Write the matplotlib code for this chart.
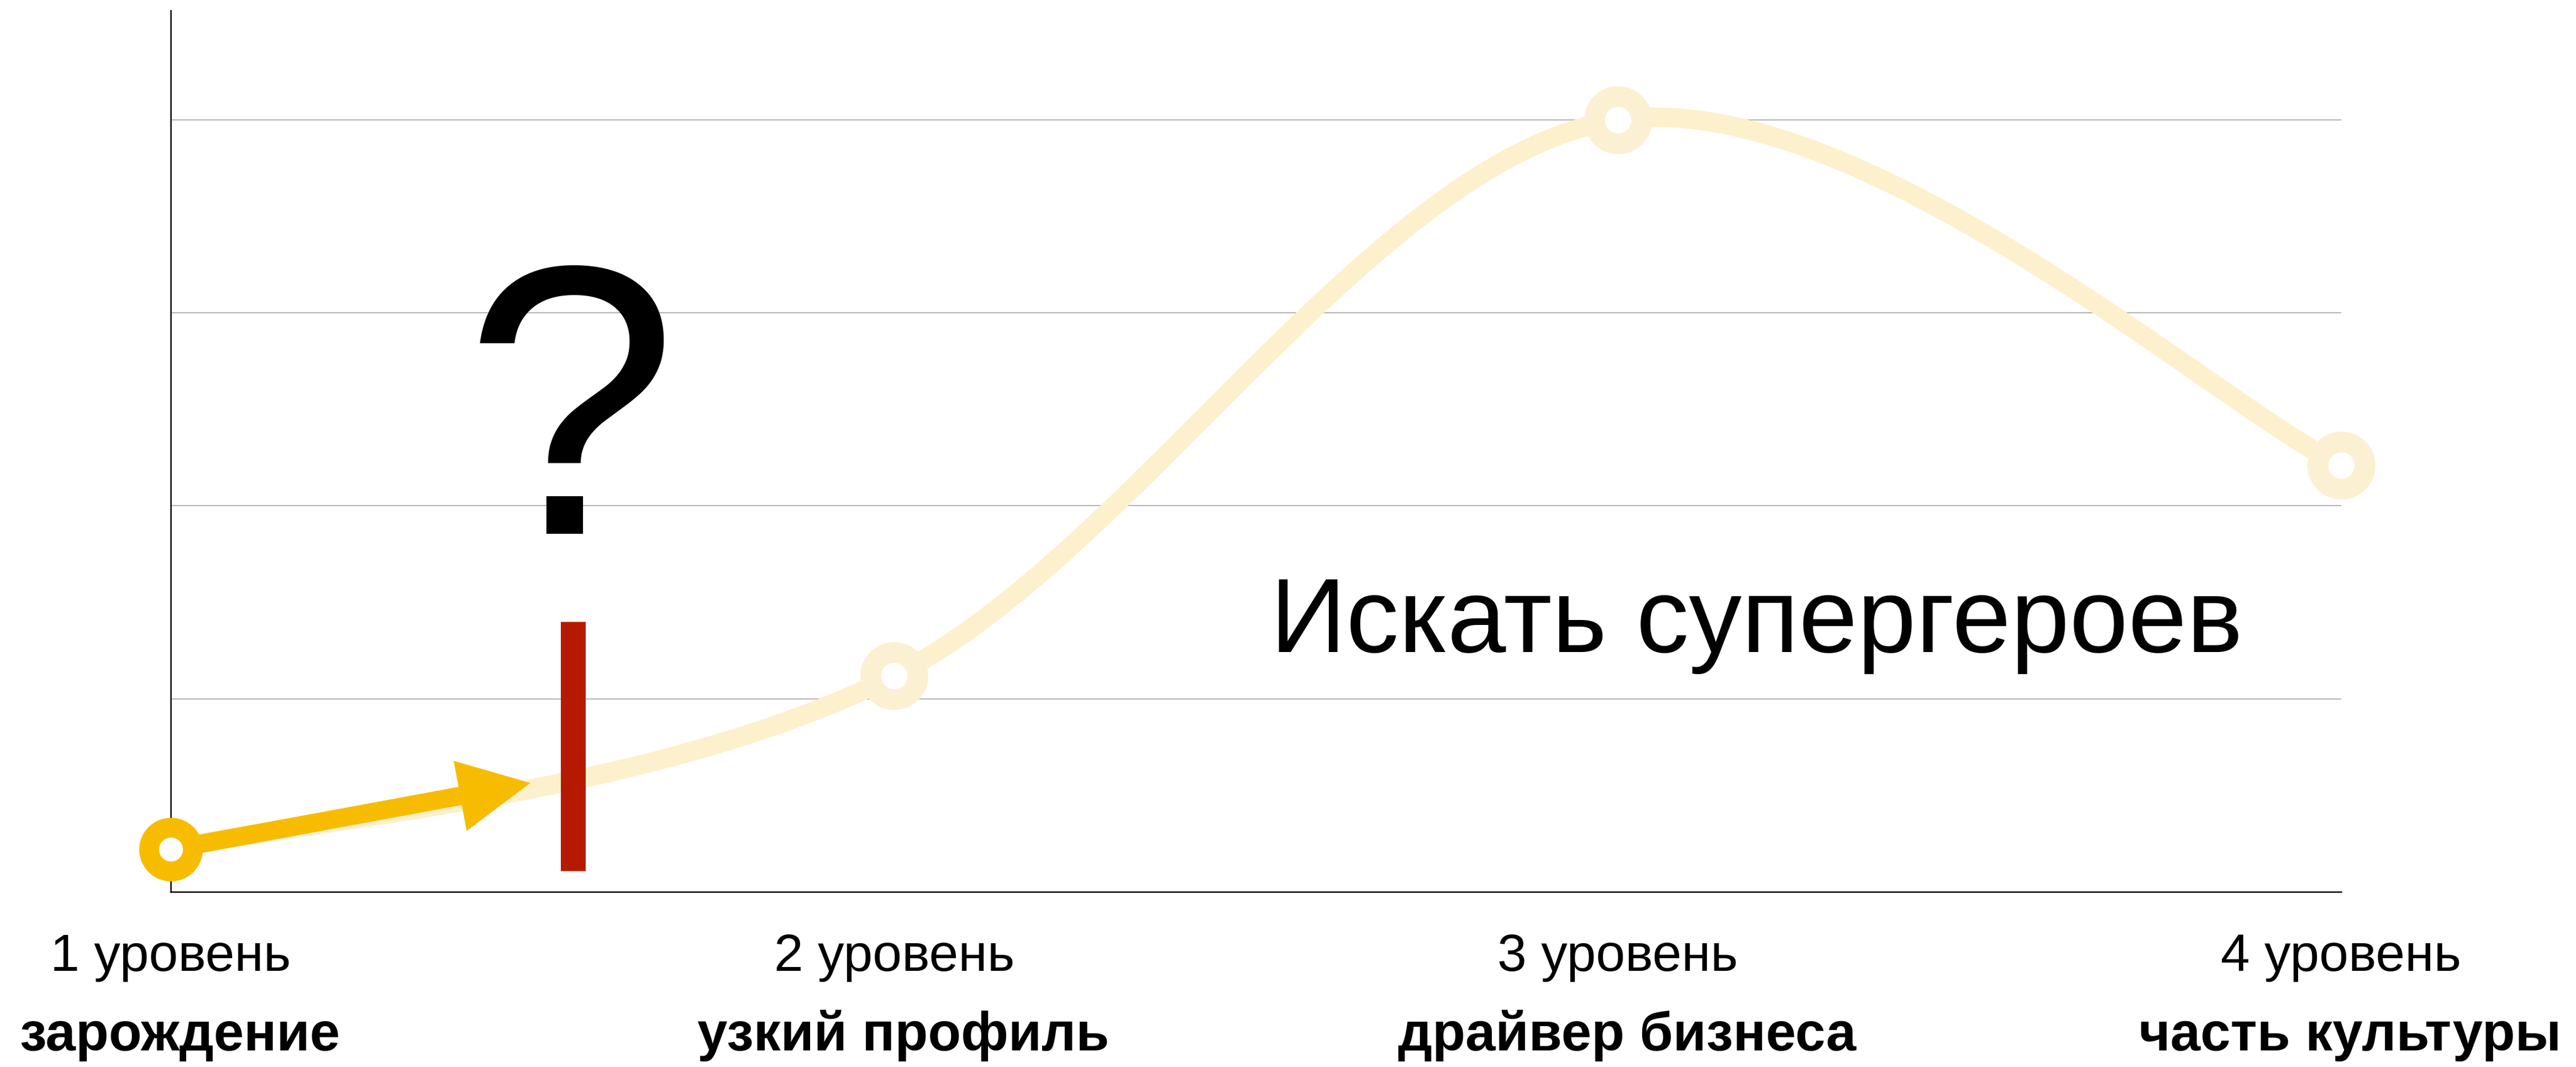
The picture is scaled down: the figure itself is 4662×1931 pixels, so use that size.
import numpy as np
import matplotlib
matplotlib.use("Agg")
import matplotlib.pyplot as plt
from matplotlib.path import Path
from matplotlib.patches import PathPatch, FancyArrowPatch, ArrowStyle

# data
levels = ["1 уровень", "2 уровень", "3 уровень", "4 уровень"]
stages = ["зарождение", "узкий профиль", "драйвер бизнеса", "часть культуры"]
level_x = [0, 1, 2, 3]
level_y = [0.22, 1.12, 4.0, 2.21]
arrow_end = (0.497, 0.564)
marker_x = 0.556
marker_low, marker_high = 0.11, 1.40
caption = "Искать супергероев"

plt.rcParams['font.family'] = ['Liberation Sans', 'DejaVu Sans']

fig = plt.figure(figsize=(4662 / 300, 1931 / 300), dpi=300)
ax = fig.add_axes([0.0663, 0.1642, 0.9088 - 0.0663, 0.990 - 0.1642])
ax.set_xlim(0, 3)
ax.set_ylim(0, 4.566)

for s in ['top', 'right']:
    ax.spines[s].set_visible(False)
for s in ['left', 'bottom']:
    ax.spines[s].set_linewidth(0.6)
    ax.spines[s].set_color('black')

ax.set_yticks([1, 2, 3, 4])
ax.set_yticklabels([])
ax.yaxis.grid(True, color='#b5b5b5', lw=0.5)
ax.set_axisbelow(True)
ax.tick_params(length=0)
ax.set_xticks(level_x)
ax.set_xticklabels([])

# smooth curve through the level points (catmull-rom as bezier segments)
pts = np.column_stack([level_x, level_y]).astype(float)
verts = [tuple(pts[0])]
codes = [Path.MOVETO]
n = len(pts)
for i in range(n - 1):
    p0 = pts[max(i - 1, 0)]
    p1 = pts[i]
    p2 = pts[i + 1]
    p3 = pts[min(i + 2, n - 1)]
    c1 = p1 + (p2 - p0) / 6
    c2 = p2 - (p3 - p1) / 6
    verts += [tuple(c1), tuple(c2), tuple(p2)]
    codes += [Path.CURVE4] * 3
curve = PathPatch(Path(verts, codes), fill=False, edgecolor='#fdf0cc', lw=8.4,
                  zorder=2, clip_on=False)
ax.add_patch(curve)

# yellow arrow from the first level
arr = FancyArrowPatch((level_x[0], level_y[0]), arrow_end,
                      arrowstyle=ArrowStyle.Simple(head_length=31, head_width=31, tail_width=8),
                      mutation_scale=1, lw=0, color='#f7bc00', shrinkA=0, shrinkB=0,
                      zorder=3, clip_on=False)
ax.add_patch(arr)

ax.plot(level_x[1:], level_y[1:], 'o', ms=20.5, mew=9, mfc='white', mec='#fcf0d3',
        zorder=4, clip_on=False)
ax.plot(level_x[:1], level_y[:1], 'o', ms=19, mew=8.6, mfc='white', mec='#f7bc00',
        zorder=5, clip_on=False)

ax.vlines(marker_x, marker_low, marker_high, color='#b51a00', lw=10.8,
          capstyle='butt', zorder=6)

ax.text(0.553, 1.855, "?", fontsize=167, ha='center', va='baseline', zorder=7)
ax.text(2.192, 1.242, caption, fontsize=45.8, ha='center', va='baseline', zorder=7)

for x, lab, st in zip(level_x, levels, stages):
    ax.annotate(lab, xy=(x, 0), xycoords=('data', 'axes fraction'),
                xytext=(0, -34.3), textcoords='offset points',
                ha='center', va='baseline', fontsize=22.8, annotation_clip=False)
    ax.annotate(st, xy=(x, 0), xycoords=('data', 'axes fraction'),
                xytext=(4, -69), textcoords='offset points',
                ha='center', va='baseline', fontsize=23.5, weight='bold',
                annotation_clip=False)

fig.savefig("out.png", dpi=300)
